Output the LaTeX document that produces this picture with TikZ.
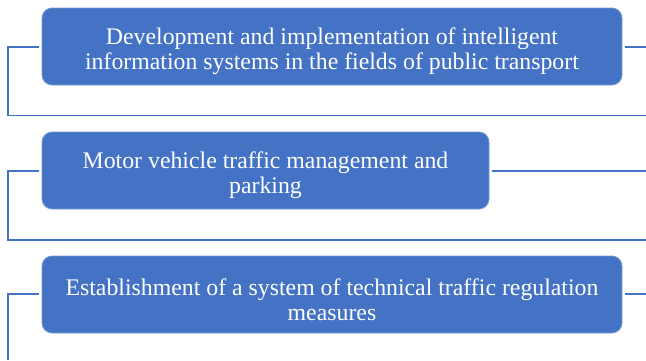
\documentclass[tikz,border=0pt]{standalone}
\usepackage{fontspec}
\setmainfont{Liberation Serif}
\definecolor{obl}{HTML}{4472C4}
\newcommand{\dropstrut}{\rule{0pt}{27pt}}
\begin{document}
\begin{tikzpicture}[x=1pt,y=-1pt,
  item/.style={fill=obl,draw=obl!70!white,line width=0.8pt,rounded corners=10pt,text=white,
    align=center,inner sep=0pt,minimum height=77pt,
    font=\fontsize{23.8}{25}\selectfont},
  link/.style={draw=obl,line width=1.5pt}]
\useasboundingbox (0,0) rectangle (646,360);
\node[item,minimum width=580pt] (b1) at (332,46.5) {\dropstrut Development and implementation of intelligent\\information systems in the fields of public transport};
\node[item,minimum width=447pt] (b2) at (265.5,170.5) {\dropstrut Motor vehicle traffic management and\\parking};
\node[item,minimum width=580pt] (b3) at (332,294.5) {\dropstrut Establishment of a system of technical traffic regulation\\measures};
% coordinates
\coordinate (l1) at (39,47);
\coordinate (l1c) at (8,47);
\coordinate (l1b) at (8,115.5);
\coordinate (l1e) at (646,115.5);
\coordinate (r1s) at (625,47);
\coordinate (r1e) at (646,47);
\coordinate (l2) at (39,171);
\coordinate (l2c) at (8,171);
\coordinate (l2b) at (8,240);
\coordinate (l2e) at (646,240);
\coordinate (r2s) at (492,171);
\coordinate (r2e) at (646,171);
\coordinate (l3) at (39,294);
\coordinate (l3c) at (8,294);
\coordinate (l3b) at (8,360);
\coordinate (r3s) at (625,294);
\coordinate (r3e) at (646,294);
\draw[link] (l1) -- (l1c) -- (l1b) -- (l1e);
\draw[link] (r1s) -- (r1e);
\draw[link] (l2) -- (l2c) -- (l2b) -- (l2e);
\draw[link] (r2s) -- (r2e);
\draw[link] (l3) -- (l3c) -- (l3b);
\draw[link] (r3s) -- (r3e);
\end{tikzpicture}
\end{document}
